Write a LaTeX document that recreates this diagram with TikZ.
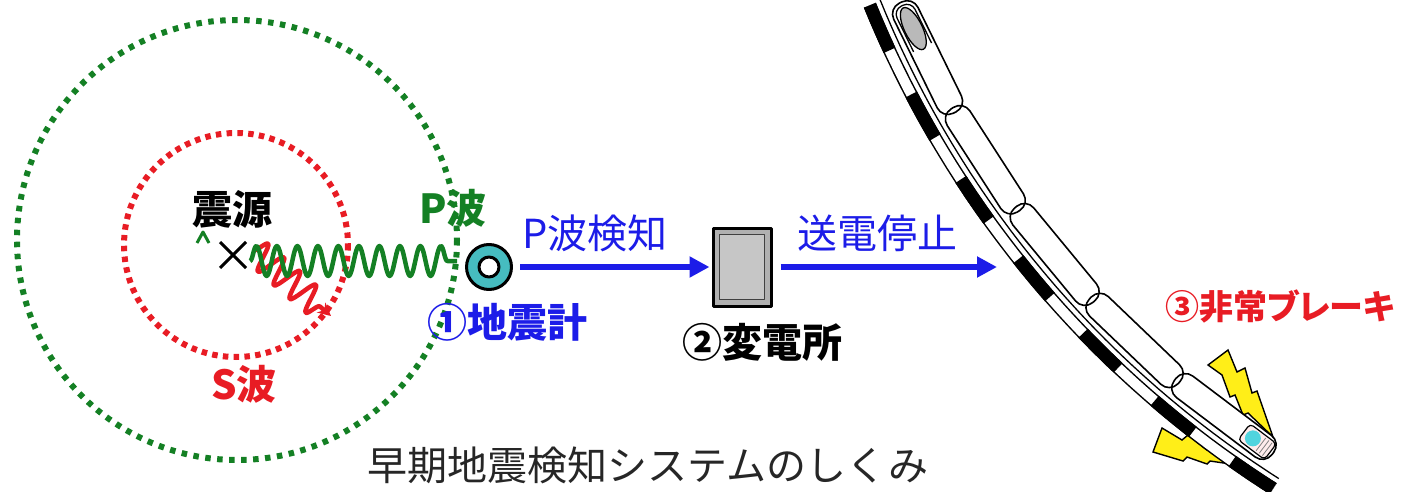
\documentclass[tikz,border=0pt]{standalone}
\usepackage{fontspec}
\setmainfont{Noto Sans CJK JP}
\newfontfamily\jpprop[RawFeature=+palt]{Noto Sans CJK JP}
\usetikzlibrary{arrows.meta,decorations.pathmorphing,calc,shapes.geometric}

\definecolor{pwave}{RGB}{20,128,36}
\definecolor{swave}{RGB}{232,28,36}
\definecolor{signal}{RGB}{28,28,232}
\definecolor{sensor}{RGB}{70,188,192}
\definecolor{bolt}{RGB}{255,238,24}
\definecolor{lamp}{RGB}{80,212,222}

\tikzset{
  lbl/.style={font=\fontsize{40}{44}\selectfont\bfseries, inner sep=0pt},
  plain/.style={font=\fontsize{40}{44}\selectfont, inner sep=0pt},
  front/.style={pwave, line width=6pt, dash pattern=on 5.5pt off 6.5pt},
  sfront/.style={swave, line width=6pt, dash pattern=on 5.5pt off 5.3pt},
  flow/.style={signal, line width=6pt, -{Triangle[length=20pt,width=20pt]}},
  flash/.style={fill=bolt, draw=black, line width=1.4pt, line join=miter},
  carline/.style={line width=1.6pt, rounded corners=12pt},
}

\begin{document}
\begin{tikzpicture}[x=1pt,y=-1pt,line join=round]
\useasboundingbox (0,0) rectangle (1408,492);

% wave fronts
\draw[front] (237,240) circle[radius=220];
\draw[sfront] (236,245) circle[radius=112];

% hypocentre and waves
\draw[line width=3pt] (220,242) -- (246,268) (220,268) -- (246,242);
\draw[pwave, line width=3pt] (197,243) -- (203,232) -- (209,243);
\draw[swave, line width=4.5pt, decorate,
      decoration={snake, amplitude=14pt, segment length=21pt, post length=6pt},
      -{Stealth[length=13pt,width=13pt]}] (254,250) -- (331,316);
\draw[pwave, line width=4.5pt, decorate,
      decoration={snake, amplitude=15pt, segment length=20.5pt}] (250,261) -- (457,261);

\node[lbl] (hypo) at (232,209) {震源};
\node[lbl, text=pwave] (plbl) at (453,208) {P波};
\node[lbl, text=swave] (slbl) at (244,384) {S波};

% seismometer
\node[circle, draw, line width=3pt, fill=sensor, minimum size=45pt, inner sep=0pt] (seis) at (489,267) {};
\node[circle, draw, line width=3pt, fill=white, minimum size=20pt, inner sep=0pt] (seishole) at (seis) {};
\node[lbl, text=signal] (seislbl) at (507,322) {①地震計};

% substation
\node[draw, line width=3pt, fill=gray!62, minimum width=58pt, minimum height=78pt, inner sep=0pt] (sub) at (742,267) {};
\node[draw=black!75, line width=1pt, fill=gray!45, minimum width=45pt, minimum height=65pt, inner sep=0pt] (subin) at (sub) {};
\node[lbl] (sublbl) at (762,342) {②変電所};

% signal arrows
\coordinate (stopend) at (997,267);
\draw[flow] ([xshift=7pt]seis.east) -- ([xshift=-2pt]sub.west);
\draw[flow] ([xshift=8pt]sub.east) -- (stopend);
\node[plain, text=signal] (detlbl) at (595,233) {P波検知};
\node[plain, text=signal] (cutlbl) at (877,233) {送電停止};

% brake sparks
\draw[flash] (1208,365) -- (1228,350) -- (1237,372) -- (1245,368) -- (1252,393) -- (1257,391)
  -- (1273,437) -- (1248,413) -- (1243,415) -- (1235,395) -- (1230,397) -- (1222,375) -- cycle;
\draw[flash] (1153,452) -- (1162,428) -- (1182,440) -- (1188,435) -- (1207,450) -- (1212,447)
  -- (1237,465) -- (1210,461) -- (1207,464) -- (1187,457) -- (1183,461) -- cycle;

% curved track
\draw[line width=13pt] plot[domain=0:35.4, samples=90] ({1829+1035.5*cos(157.86-\x)},{-385+1035.5*sin(157.86-\x)});
\draw[white, line width=10pt] plot[domain=0:35.4, samples=90] ({1829+1035.5*cos(157.86-\x)},{-385+1035.5*sin(157.86-\x)});
\draw[line width=13pt, dash pattern=on 49.2pt off 49.2pt] plot[domain=0:35.4, samples=90] ({1829+1035.5*cos(157.86-\x)},{-385+1035.5*sin(157.86-\x)});
\draw[line width=1.3pt] plot[domain=0:35.8, samples=90] ({1829+1024*cos(158.3-\x)},{-385+1024*sin(158.3-\x)});

% train cars
\coordinate (C) at (1829,-385);
\foreach \i/\a in {0/157.2,1/150.5,2/143.8,3/137.1,4/130.4,5/123.7}
  \coordinate (J\i) at ($(C)+(\a:1006)$);
\foreach \i/\j in {0/1,1/2,2/3,3/4,4/5} {
  \coordinate (A\i) at ($(J\i)!-2.5pt!(J\j)$);
  \coordinate (B\i) at ($(J\j)!-2.5pt!(J\i)$);
}
\foreach \i in {0,...,4}
  \fill[white, rounded corners=12pt] ($(A\i)!13.5pt!90:(B\i)$) -- ($(B\i)!13.5pt!-90:(A\i)$)
    -- ($(B\i)!13.5pt!90:(A\i)$) -- ($(A\i)!13.5pt!-90:(B\i)$) -- cycle;
\foreach \i in {0,...,4}
  \draw[carline] ($(A\i)!13.5pt!90:(B\i)$) -- ($(B\i)!13.5pt!-90:(A\i)$)
    -- ($(B\i)!13.5pt!90:(A\i)$) -- ($(A\i)!13.5pt!-90:(B\i)$) -- cycle;

% leading car: window and inner rim
\coordinate (T1) at ($(A0)!3.5pt!(B0)$);
\coordinate (T2) at ($(A0)!50pt!(B0)$);
\draw[line width=1.3pt, rounded corners=9pt] ($(T2)!10pt!90:(B0)$) -- ($(T1)!10pt!90:(B0)$)
  -- ($(T1)!10pt!-90:(B0)$) -- ($(T2)!10pt!-90:(B0)$);
\node[ellipse, draw, line width=1.3pt, fill=gray!55, minimum width=46pt, minimum height=18pt,
      inner sep=0pt, rotate=-63.9] (window) at ($(A0)!29pt!(B0)$) {};

% rear car: lamp housing
\coordinate (H0) at ($(B4)!3pt!(A4)$);
\coordinate (H1) at ($(B4)!36pt!(A4)$);
\fill[pink!30, rounded corners=4pt] ($(H1)!9pt!90:(B4)$) -- ($(H0)!9pt!90:(B4)$)
  -- ($(H0)!9pt!-90:(B4)$) -- ($(H1)!9pt!-90:(B4)$) -- cycle;
\fill[lamp] ($(B4)!25pt!(A4)$) circle[radius=8];
\foreach \s in {7pt,11pt,15pt}
  \draw[gray, line width=0.8pt] ($($(B4)!\s!(A4)$)!8pt!90:(B4)$) -- ($($(B4)!\s!(A4)$)!8pt!-90:(B4)$);
\draw[line width=1.2pt, rounded corners=4pt] ($(H1)!10pt!90:(B4)$) -- ($(H0)!10pt!90:(B4)$)
  -- ($(H0)!10pt!-90:(B4)$) -- ($(H1)!10pt!-90:(B4)$) -- cycle;

\node[lbl, text=swave, font=\fontsize{34}{38}\selectfont\bfseries\jpprop] (brklbl) at (1280,306) {③非常ブレーキ};

% caption
\node[plain, text=black!85] (title) at (648,465) {早期地震検知システムのしくみ};
\end{tikzpicture}
\end{document}
